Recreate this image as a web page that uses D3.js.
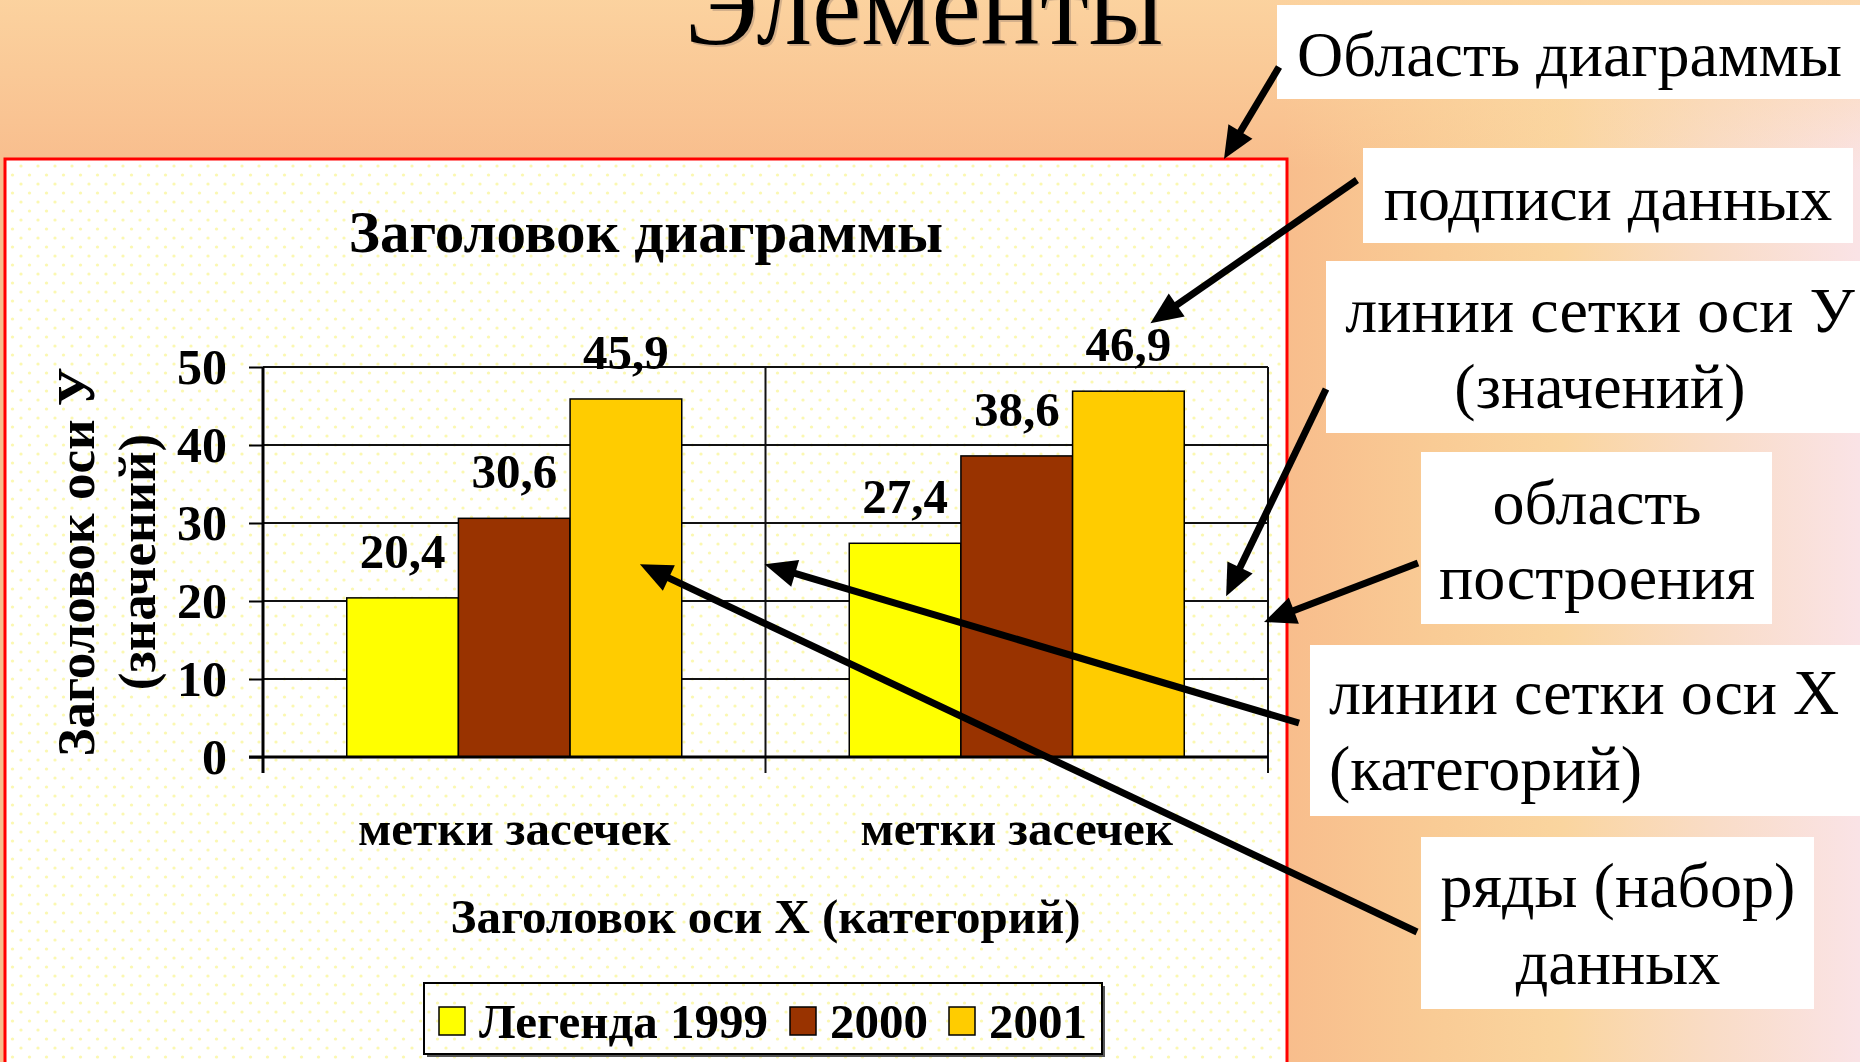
<!DOCTYPE html>
<html>
<head>
<meta charset="utf-8">
<script src="https://cdn.jsdelivr.net/npm/d3@7"></script>
<style>
  body { margin: 0; overflow: hidden; }
  svg { display: block; }
  text { font-family: "Liberation Serif", "Times New Roman", serif; }
</style>
</head>
<body>
<div id="wrapper"></div>
<script>
// chart data
const categories = ["метки засечек", "метки засечек"]
const years = ["1999", "2000", "2001"]
const values1999 = [20.4, 27.4]
const values2000 = [30.6, 38.6]
const values2001 = [45.9, 46.9]
const yTicks = [0, 10, 20, 30, 40, 50]
const legendLabels = ["Легенда 1999", "2000", "2001"]
const seriesColors = ["#ffff00", "#993300", "#ffcc00"]

// texts
const slideTitle = "Элементы"
const chartTitle = "Заголовок диаграммы"
const yTitleLines = ["Заголовок оси У", "(значений)"]
const xTitle = "Заголовок оси Х (категорий)"
const calloutTexts = [
  ["Область диаграммы"],
  ["подписи данных"],
  ["линии сетки оси У", "(значений)"],
  ["область", "построения"],
  ["линии сетки оси Х", "(категорий)"],
  ["ряды (набор)", "данных"]
]

function drawChart() {
  const series = [values1999, values2000, values2001]
  const data = categories.map((c, i) => ({
    index: i,
    label: c,
    values: years.map((y, j) => ({ year: y, value: series[j][i] }))
  }))

  // 1. dimensions
  const dimensions = {
    width: 1860,
    height: 1062,
    chart: { x: 5, y: 159, width: 1282, height: 920 },
    plot: { left: 263, right: 1268, top: 367, bottom: 757 }
  }

  // 2. canvas
  const svg = d3.select("#wrapper")
    .append("svg")
      .attr("width", dimensions.width)
      .attr("height", dimensions.height)

  const defs = svg.append("defs")
  const bgH = defs.append("linearGradient")
      .attr("id", "bgH")
      .attr("x1", 0).attr("x2", 1).attr("y1", 0).attr("y2", 0)
  ;[[0, "#f8bd8d"], [0.69, "#f8bd8c"], [0.77, "#f9cb95"], [0.84, "#fad59f"],
    [0.92, "#f9dcc6"], [1, "#fae3e6"]]
    .forEach(([o, c]) => bgH.append("stop").attr("offset", o).attr("stop-color", c))
  const bgV = defs.append("linearGradient")
      .attr("id", "bgV")
      .attr("x1", 0).attr("x2", 0).attr("y1", 0).attr("y2", 1)
  bgV.append("stop").attr("offset", 0).attr("stop-color", "#fcd6a2").attr("stop-opacity", 0.85)
  bgV.append("stop").attr("offset", 0.16).attr("stop-color", "#fcd6a2").attr("stop-opacity", 0)

  const dots = defs.append("pattern")
      .attr("id", "dots")
      .attr("patternUnits", "userSpaceOnUse")
      .attr("width", 17)
      .attr("height", 18)
  dots.append("rect").attr("width", 17).attr("height", 18).attr("fill", "#ffffff")
  dots.append("circle").attr("cx", 4).attr("cy", 4).attr("r", 1.6).attr("fill", "#fbf8b0")
  dots.append("circle").attr("cx", 12.5).attr("cy", 13).attr("r", 1.6).attr("fill", "#fbf8b0")

  svg.append("rect")
      .attr("width", dimensions.width)
      .attr("height", dimensions.height)
      .attr("fill", "url(#bgH)")
  svg.append("rect")
      .attr("width", dimensions.width)
      .attr("height", dimensions.height)
      .attr("fill", "url(#bgV)")

  // slide title (cut at the top, like the slide)
  svg.append("text")
      .attr("x", 926).attr("y", 46)
      .attr("text-anchor", "middle")
      .attr("font-size", 111)
      .attr("fill", "#9a8070")
      .attr("opacity", 0.4)
      .text(slideTitle)
  svg.append("text")
      .attr("x", 924).attr("y", 44)
      .attr("text-anchor", "middle")
      .attr("font-size", 111)
      .attr("fill", "#000")
      .text(slideTitle)

  // chart area
  const ch = dimensions.chart
  svg.append("rect")
      .attr("x", ch.x).attr("y", ch.y)
      .attr("width", ch.width).attr("height", ch.height)
      .attr("fill", "url(#dots)")
      .attr("stroke", "#ff0000")
      .attr("stroke-width", 3)

  // 3. scales
  const p = dimensions.plot
  const x0 = d3.scaleBand()
    .domain(data.map(d => d.index))
    .range([p.left, p.right])
  const x1 = d3.scaleBand()
    .domain(years)
    .range([0, x0.bandwidth()])
    .paddingInner(0)
    .paddingOuter(0.75)
  const y = d3.scaleLinear()
    .domain([0, 50])
    .range([p.bottom, p.top])
  const color = d3.scaleOrdinal().domain(years).range(seriesColors)
  const fmt = d3.formatLocale({ decimal: ",", thousands: " ", grouping: [3], currency: ["", ""] }).format(".1f")

  const bounds = svg.append("g")

  // 4. gridlines
  bounds.append("g")
    .selectAll("line")
    .data(yTicks.filter(t => t > 0))
    .join("line")
      .attr("x1", p.left).attr("x2", p.right)
      .attr("y1", d => y(d)).attr("y2", d => y(d))
      .attr("stroke", "#111")
      .attr("stroke-width", 2)
  const catEdges = data.map(d => x0(d.index)).slice(1).concat([p.right])
  bounds.append("g")
    .selectAll("line")
    .data(catEdges)
    .join("line")
      .attr("x1", d => d).attr("x2", d => d)
      .attr("y1", p.top).attr("y2", p.bottom + 16)
      .attr("stroke", "#111")
      .attr("stroke-width", 2)

  // 5. bars
  const groups = bounds.append("g")
    .selectAll("g")
    .data(data)
    .join("g")
      .attr("transform", d => `translate(${x0(d.index)},0)`)
  groups.selectAll("rect")
    .data(d => d.values)
    .join("rect")
      .attr("x", d => x1(d.year))
      .attr("y", d => y(d.value))
      .attr("width", x1.bandwidth())
      .attr("height", d => y(0) - y(d.value))
      .attr("fill", d => color(d.year))
      .attr("stroke", "#000")
      .attr("stroke-width", 1.5)

  // 6. data labels
  groups.selectAll("text")
    .data(d => d.values)
    .join("text")
      .attr("x", d => x1(d.year) + x1.bandwidth() / 2)
      .attr("y", d => y(d.value) - 30)
      .attr("text-anchor", "middle")
      .attr("font-size", 49)
      .attr("font-weight", "bold")
      .text(d => fmt(d.value))

  // 7. axes
  const yAxis = bounds.append("g")
      .attr("transform", `translate(${p.left},0)`)
      .call(d3.axisLeft(y).tickValues(yTicks).tickSize(14).tickSizeOuter(0).tickPadding(22))
  yAxis.select(".domain").attr("stroke", "#000").attr("stroke-width", 3)
    .attr("d", `M0,${p.top}V${p.bottom + 16}`)
  yAxis.selectAll(".tick line").attr("stroke", "#000").attr("stroke-width", 2)
  yAxis.selectAll(".tick text")
      .attr("font-family", "'Liberation Serif', 'Times New Roman', serif")
      .attr("font-size", 50)
      .attr("font-weight", "bold")
      .attr("fill", "#000")

  bounds.append("line")
      .attr("x1", p.left - 14).attr("x2", p.right)
      .attr("y1", y(0)).attr("y2", y(0))
      .attr("stroke", "#000")
      .attr("stroke-width", 3)

  bounds.append("g")
    .selectAll("text")
    .data(data)
    .join("text")
      .attr("x", d => x0(d.index) + x0.bandwidth() / 2)
      .attr("y", 845)
      .attr("text-anchor", "middle")
      .attr("font-size", 49)
      .attr("font-weight", "bold")
      .text(d => d.label)

  // titles
  svg.append("text")
      .attr("x", ch.x + ch.width / 2).attr("y", 252)
      .attr("text-anchor", "middle")
      .attr("font-size", 59)
      .attr("font-weight", "bold")
      .text(chartTitle)
  svg.append("text")
      .attr("x", (p.left + p.right) / 2).attr("y", 933)
      .attr("text-anchor", "middle")
      .attr("font-size", 49)
      .attr("font-weight", "bold")
      .text(xTitle)
  svg.append("g")
      .attr("transform", `translate(94,${(p.top + p.bottom) / 2}) rotate(-90)`)
    .selectAll("text")
    .data(yTitleLines)
    .join("text")
      .attr("x", 0)
      .attr("y", (d, i) => i * 61)
      .attr("text-anchor", "middle")
      .attr("font-size", 53)
      .attr("font-weight", "bold")
      .text(d => d)

  // 8. legend
  const legend = svg.append("g")
  legend.append("rect")
      .attr("x", 427).attr("y", 986).attr("width", 678).attr("height", 71)
      .attr("fill", "#555")
  legend.append("rect")
      .attr("x", 424).attr("y", 983).attr("width", 678).attr("height", 71)
      .attr("fill", "url(#dots)")
      .attr("stroke", "#000")
      .attr("stroke-width", 2)
  const legendX = [439, 790, 949]
  const items = legend.selectAll("g.item")
    .data(years)
    .join("g")
      .attr("class", "item")
      .attr("transform", (d, i) => `translate(${legendX[i]},0)`)
  items.append("rect")
      .attr("y", 1007).attr("width", 26).attr("height", 28)
      .attr("fill", d => color(d))
      .attr("stroke", "#000")
      .attr("stroke-width", 1.5)
  items.append("text")
      .attr("x", 40).attr("y", 1038)
      .attr("font-size", 49)
      .attr("font-weight", "bold")
      .text((d, i) => legendLabels[i])

  // 9. callouts
  const boxes = [
    { x: 1277, y: 5, w: 600, h: 94, tx: 1297, anchor: "start", base: [76] },
    { x: 1363, y: 148, w: 490, h: 95, tx: 1608, anchor: "middle", base: [220] },
    { x: 1326, y: 261, w: 560, h: 172, tx: 1600, anchor: "middle", base: [332, 408] },
    { x: 1421, y: 452, w: 351, h: 172, tx: 1597, anchor: "middle", base: [524, 599] },
    { x: 1310, y: 645, w: 570, h: 171, tx: 1329, anchor: "start", base: [714, 790] },
    { x: 1421, y: 837, w: 393, h: 172, tx: 1618, anchor: "middle", base: [907, 984] }
  ]
  const callouts = svg.append("g")
  boxes.forEach((b, i) => {
    callouts.append("rect")
        .attr("x", b.x).attr("y", b.y).attr("width", b.w).attr("height", b.h)
        .attr("fill", "#fff")
    calloutTexts[i].forEach((t, k) => {
      callouts.append("text")
          .attr("x", b.tx).attr("y", b.base[k])
          .attr("text-anchor", b.anchor)
          .attr("font-size", 64)
          .text(t)
    })
  })

  const cat2 = data[1]
  const goldX = (d, j) => x0(d.index) + x1(years[j]) + x1.bandwidth() / 2
  const arrows = [
    [1279, 67, 1224, ch.y],
    [1357, 180, goldX(cat2, 2) + 22, y(46.9) - 68],
    [1326, 389, (x0(1) + x1(years[2]) + x1.bandwidth() + p.right) / 2, y(20.6)],
    [1418, 563, p.right - 4, y(17.3)],
    [1299, 723, x0(1) - 1, y(24.7)],
    [1417, 932, goldX(data[0], 2) + 14, y(24.7)]
  ]
  arrows.forEach(([ax, ay, bx, by]) => drawArrow(callouts, ax, ay, bx, by))
}

function drawArrow(g, xa, ya, xb, yb) {
  const headLen = 32
  const headW = 14
  const a = Math.atan2(yb - ya, xb - xa)
  const cx = xb - headLen * Math.cos(a)
  const cy = yb - headLen * Math.sin(a)
  g.append("line")
      .attr("x1", xa).attr("y1", ya)
      .attr("x2", cx + 2 * Math.cos(a)).attr("y2", cy + 2 * Math.sin(a))
      .attr("stroke", "#000")
      .attr("stroke-width", 7)
  g.append("path")
      .attr("d", `M${xb},${yb}L${cx + headW * Math.sin(a)},${cy - headW * Math.cos(a)}` +
        `L${cx - headW * Math.sin(a)},${cy + headW * Math.cos(a)}Z`)
      .attr("fill", "#000")
}

drawChart()
</script>
</body>
</html>
